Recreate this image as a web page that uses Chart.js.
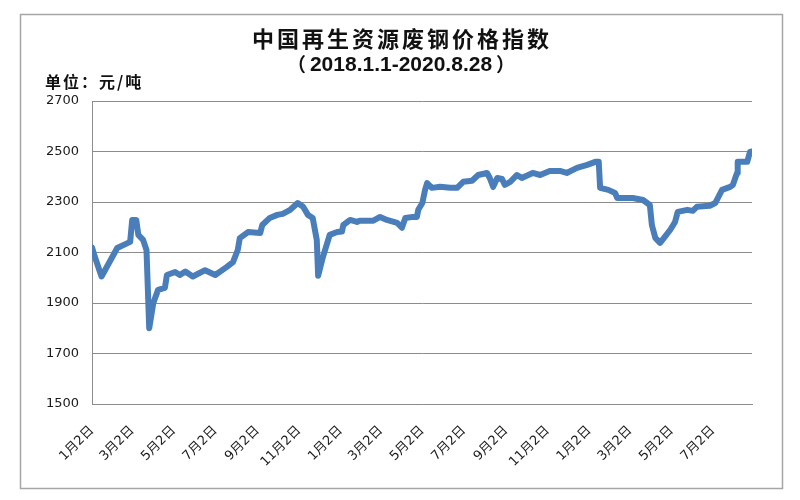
<!DOCTYPE html>
<html><head><meta charset="utf-8">
<script src="https://cdn.jsdelivr.net/npm/chart.js@4/dist/chart.umd.min.js"></script>
<style>html,body{margin:0;padding:0;background:#fff}</style>
</head><body>
<canvas id="c" width="800" height="500" style="display:block;width:800px;height:500px"></canvas>
<script>
const chartTitle = '中国再生资源废钢价格指数';
const subtitleOpen = '（', subtitleBody = '2018.1.1-2020.8.28', subtitleClose = '）';
const unitLabel = '单位：元/吨';

const dates = [
 '2018-01-02','2018-01-06','2018-01-16','2018-02-05','2018-02-08','2018-02-27','2018-03-02','2018-03-08',
 '2018-03-11','2018-03-18','2018-03-23','2018-03-27','2018-04-02','2018-04-09','2018-04-19','2018-04-22',
 '2018-05-04','2018-05-11','2018-05-19','2018-05-30','2018-06-17','2018-07-02','2018-07-19','2018-07-28',
 '2018-08-04','2018-08-07','2018-08-19','2018-09-06','2018-09-09','2018-09-20','2018-10-01','2018-10-09',
 '2018-10-20','2018-10-31','2018-11-08','2018-11-15','2018-11-22','2018-11-28','2018-11-30','2018-12-07',
 '2018-12-17','2018-12-28','2019-01-04','2019-01-06','2019-01-16','2019-01-26','2019-01-30','2019-02-19',
 '2019-03-01','2019-03-11','2019-03-26','2019-04-02','2019-04-07','2019-04-18','2019-04-24','2019-04-26',
 '2019-05-02','2019-05-06','2019-05-09','2019-05-16','2019-05-28','2019-06-12','2019-06-22','2019-07-01',
 '2019-07-14','2019-07-23','2019-08-05','2019-08-09','2019-08-14','2019-08-20','2019-08-27','2019-08-31',
 '2019-09-08','2019-09-18','2019-09-25','2019-10-11','2019-10-22','2019-11-05','2019-11-20','2019-11-30',
 '2019-12-15','2019-12-30','2020-01-11','2020-01-16','2020-01-18','2020-01-30','2020-02-09','2020-02-12',
 '2020-03-06','2020-03-21','2020-03-31','2020-04-03','2020-04-08','2020-04-15','2020-04-22','2020-04-30',
 '2020-05-07','2020-05-11','2020-05-25','2020-06-02','2020-06-08','2020-06-27','2020-07-05','2020-07-15',
 '2020-07-27','2020-07-31','2020-08-06','2020-08-07','2020-08-21','2020-08-25','2020-08-28'
];
const values = [
 2120,2084,2005,2103,2118,2142,2229,2229,
 2170,2150,2110,1800,1900,1952,1960,2011,
 2023,2011,2025,2005,2030,2011,2043,2062,
 2110,2157,2181,2177,2209,2237,2249,2253,
 2269,2296,2281,2249,2237,2150,2008,2082,
 2170,2181,2183,2209,2229,2221,2226,2226,
 2241,2229,2217,2198,2237,2241,2241,2269,
 2296,2348,2375,2356,2360,2356,2356,2380,
 2384,2407,2415,2395,2360,2395,2391,2368,
 2380,2407,2395,2415,2407,2423,2423,2415,
 2435,2447,2459,2459,2356,2348,2336,2316,
 2316,2308,2288,2209,2158,2138,2162,2190,
 2221,2261,2269,2265,2281,2285,2296,2348,
 2360,2368,2415,2459,2459,2498,2500
];
const tickDates = ['2018-01-02','2018-03-02','2018-05-02','2018-07-02','2018-09-02','2018-11-02',
 '2019-01-02','2019-03-02','2019-05-02','2019-07-02','2019-09-02','2019-11-02',
 '2020-01-02','2020-03-02','2020-05-02','2020-07-02'];
const tickLabels = ['1月2日','3月2日','5月2日','7月2日','9月2日','11月2日',
 '1月2日','3月2日','5月2日','7月2日','9月2日','11月2日',
 '1月2日','3月2日','5月2日','7月2日'];
const startDate = '2018-01-02', endDate = '2020-08-28';
const yMin = 1500, yMax = 2700, yStep = 200;

function dayOf(s){const p=s.split('-').map(Number);return (Date.UTC(p[0],p[1]-1,p[2])-Date.UTC(2018,0,2))/86400000;}

const decor = {
  id:'decor',
  beforeDraw(chart){const c=chart.ctx;c.save();c.fillStyle='#fff';c.fillRect(0,0,chart.width,chart.height);c.restore();},
  afterDraw(chart){
    const c=chart.ctx;c.save();
    c.strokeStyle='#a6a6a6';c.lineWidth=1.5;c.strokeRect(20.5,14.5,762,474);
    c.fillStyle='#111';c.textBaseline='middle';c.textAlign='center';
    c.font='bold 22px "Noto Sans CJK SC"';c.letterSpacing='3px';
    c.fillText(chartTitle,402,39);
    c.letterSpacing='0px';
    c.font='bold 21px "Liberation Sans"';
    const bw=c.measureText(subtitleBody).width;
    c.fillText(subtitleBody,401,65);
    c.font='bold 19px "Noto Sans CJK SC"';
    c.textAlign='right';c.fillText(subtitleOpen,401-bw/2-4,65);
    c.textAlign='left';c.fillText(subtitleClose,401+bw/2+4,65);
    c.font='bold 16px "Noto Sans CJK SC"';c.letterSpacing='2px';
    c.fillText(unitLabel,45,82);
    c.restore();
  }
};

new Chart(document.getElementById('c'),{
  type:'line',
  data:{datasets:[{data:dates.map((d,i)=>({x:dayOf(d),y:values[i]})),borderColor:'#4a7ebb',borderWidth:6,
    pointRadius:0,tension:0,borderJoinStyle:'round',borderCapStyle:'round',fill:false}]},
  options:{
    responsive:false,animation:false,devicePixelRatio:1,
    layout:{padding:{top:101,right:48,left:0,bottom:0}},
    plugins:{legend:{display:false},tooltip:{enabled:false},title:{display:false}},
    scales:{
      x:{type:'linear',min:dayOf(startDate),max:dayOf(endDate),
        afterBuildTicks:s=>{s.ticks=tickDates.map(d=>({value:dayOf(d)}));},
        afterFit:s=>{s.height=96;},
        grid:{display:false,drawTicks:false},
        border:{display:true,color:'#8c8c8c',width:1},
        ticks:{autoSkip:false,minRotation:45,maxRotation:45,padding:19,color:'#1a1a1a',
          font:{family:'"DejaVu Sans","Noto Sans CJK SC"',size:13},
          callback:v=>{const i=tickDates.findIndex(d=>dayOf(d)===v);return i>=0?tickLabels[i]:'';}}
      },
      y:{min:yMin,max:yMax,afterFit:s=>{s.width=92;},
        grid:{color:'#8c8c8c',drawTicks:false},
        border:{display:true,color:'#8c8c8c',width:1},
        ticks:{stepSize:yStep,padding:13,color:'#1a1a1a',font:{family:'"DejaVu Sans"',size:13},
          callback:v=>String(v)}
      }
    }
  },
  plugins:[decor]
});
</script>
</body></html>
